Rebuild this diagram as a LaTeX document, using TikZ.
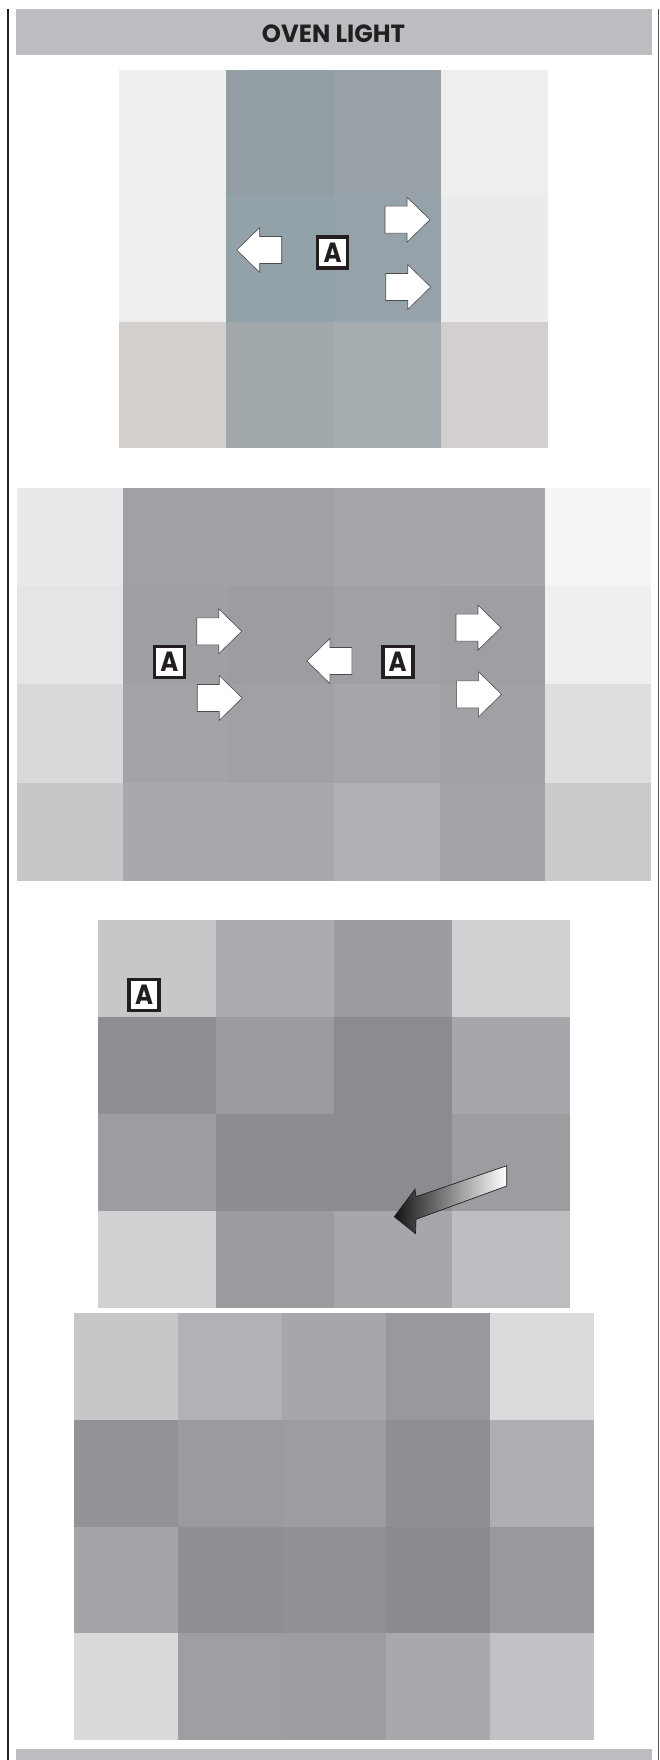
\documentclass[tikz,border=0pt]{standalone}
\usepackage{fontspec}
\newfontfamily\ttlfont{Poppins}
\definecolor{hdr}{HTML}{BCBDC1}
\definecolor{ink}{HTML}{231F20}
\newcommand\mygrid[6]{%
  \foreach \cc [count=\k from 0] in {#6}{%
    \pgfmathtruncatemacro\ci{mod(\k,#5)}%
    \pgfmathtruncatemacro\ri{floor(\k/#5)}%
    \definecolor{cellc}{HTML}{\cc}%
    \fill[cellc] ({#1+\ci*#3},{#2+\ri*#4}) rectangle ++(#3,#4);
  }}
\begin{document}
\begin{tikzpicture}[x=1pt,y=-1pt,
  abox/.style={draw=ink, line width=3.6pt, fill=white, minimum width=30pt,
    minimum height=31pt, inner sep=0pt},
  wing/.style={fill=white, draw=black!70, line width=0.6pt, line join=miter},
  rarrow/.pic={\path[wing] (0,-13.5) -- (22,-13.5) -- (22,-22.5) -- (45,0)
    -- (22,22.5) -- (22,13.5) -- (0,13.5) -- cycle;}
]
\useasboundingbox (0,0) rectangle (660,1760);
\fill[white] (0,0) rectangle (660,1760);

% frame lines
\draw[line width=1.3pt, ink] (8,9) -- (8,1760);
\draw[line width=1.3pt, black!65] (658.3,9) -- (658.3,1760);

% header and footer bars
\fill[hdr] (16,9) rectangle (651.7,54.7);
\node[anchor=base, inner sep=0pt, text=ink] (title) at (333.5,42.7)
  {\resizebox{143pt}{17.7pt}{\ttlfont\bfseries OVEN LIGHT}};
\fill[hdr] (16,1749) rectangle (651.7,1760);

% panel 1 (4 x 3)
\mygrid{119}{70}{107.3}{126.1}{4}{F0EFEE,929EA4,99A1A8,EFEEEC,
  EFEDEE,93A1A8,95A2A9,EBEBEB,
  D4D0CE,A1A9AC,A5ACAF,D2CFCE}
% panel 2 (6 x 4)
\mygrid{16.8}{488}{105.7}{98.2}{6}{E8E9EB,A0A1A4,A0A1A4,A6A7AA,A6A7AA,F5F5F5,
  E4E5E7,9FA0A3,9C9DA0,A0A1A4,9E9FA2,EFEFEF,
  D8D9DB,A3A4A7,A0A1A4,A5A6A9,A0A1A4,DDDEE0,
  C6C7C9,A8A9AC,A8A9AC,B0B1B4,A3A4A7,C9CACC}
% panel 3 (4 x 4)
\mygrid{98}{920}{118}{97.1}{4}{C6C7C9,AAABAE,9B9C9F,D0D1D3,
  8E8F93,9B9CA0,8B8C90,A6A7AA,
  9C9DA1,8C8D91,8B8C90,9C9DA0,
  D0D1D3,9B9CA0,A6A7AA,BDBEC1}
% panel 4 (5 x 4)
\mygrid{74.1}{1313}{104}{106.75}{5}{C6C7C9,B1B2B5,A6A7AA,98999C,DADBDD,
  929397,9A9B9E,9C9DA0,8E8F93,AEAFB2,
  A4A5A8,8E8F93,909195,8A8B8F,98999C,
  D9DADC,9E9FA2,9C9DA0,A8A9AC,C1C2C5}

% panel 1 arrows and label
\pic[rotate=180] at (281.7,250) {rarrow};
\pic at (385,219.7) {rarrow};
\pic at (385.7,287) {rarrow};
\node[abox] (a1) at (332.5,252.5) {\resizebox{18pt}{19.5pt}{\ttlfont\bfseries\color{ink}A}};

% panel 2 arrows and labels
\node[abox] (a2) at (169.3,662) {\resizebox{18pt}{19.5pt}{\ttlfont\bfseries\color{ink}A}};
\pic at (196.7,631.3) {rarrow};
\pic at (197.2,698) {rarrow};
\pic[rotate=180] at (351.9,661) {rarrow};
\node[abox] (a3) at (397.7,662) {\resizebox{18pt}{19.5pt}{\ttlfont\bfseries\color{ink}A}};
\pic at (456,627.6) {rarrow};
\pic at (456.6,694.3) {rarrow};

% panel 3 label and shaded arrow
\node[abox] (a4) at (144.2,994.8) {\resizebox{18pt}{19.5pt}{\ttlfont\bfseries\color{ink}A}};
\path[draw=ink, line width=0.7pt, line join=miter, left color=black!92,
  middle color=black!74, right color=white]
  (394.3,1216.7) -- (415,1189.2) -- (416,1196.7) -- (506.7,1165.7)
  -- (506.7,1186) -- (416,1219.3) -- (415.5,1233.6) -- cycle;
\end{tikzpicture}
\end{document}
